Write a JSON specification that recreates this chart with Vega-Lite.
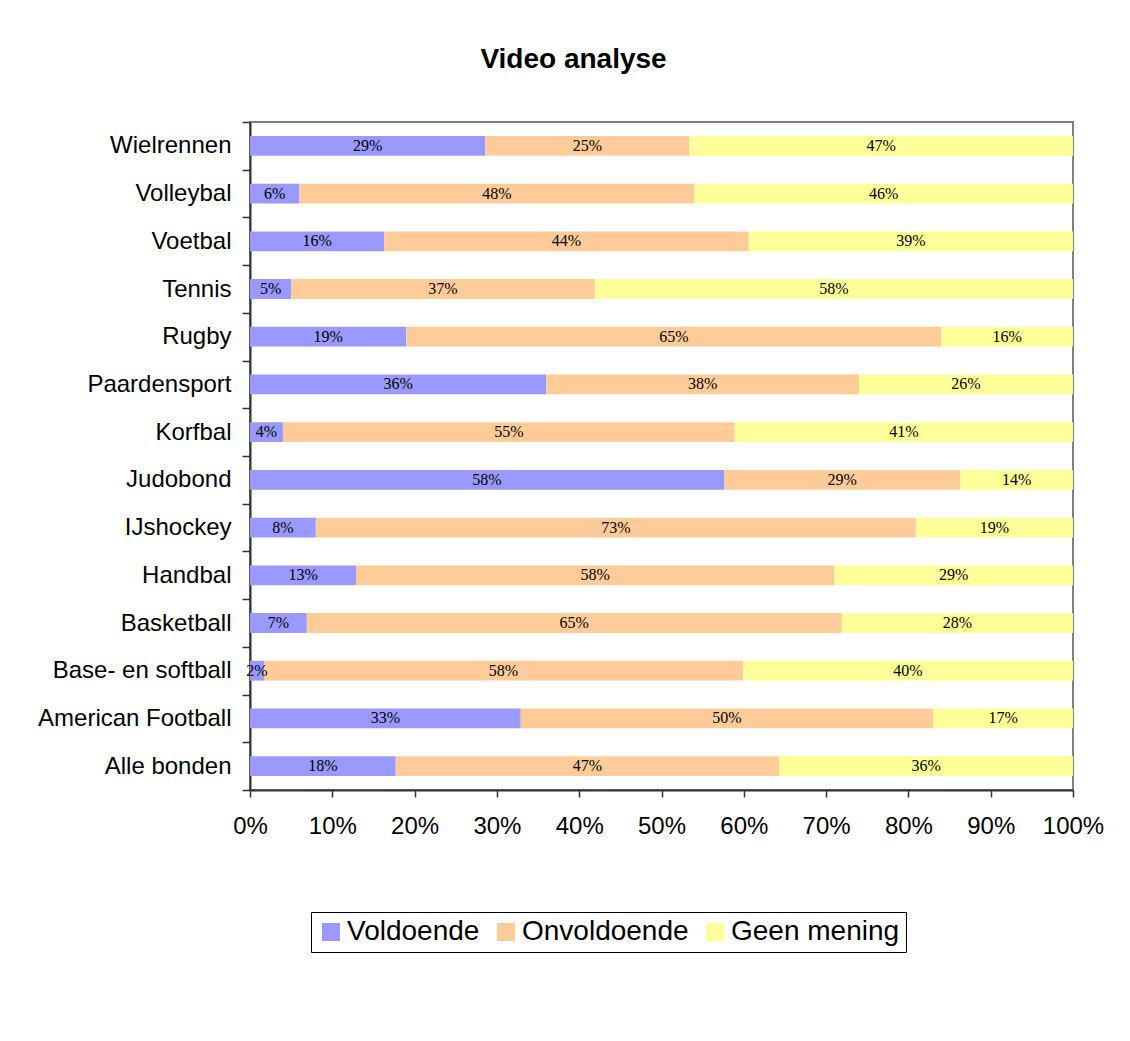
{
  "$schema": "https://vega.github.io/schema/vega-lite/v6.json",
  "width": 823,
  "height": 668,
  "autosize": "none",
  "padding": {"left": 250, "top": 122, "right": 57, "bottom": 251},
  "background": "white",
  "title": {
    "text": "Video analyse",
    "font": "Liberation Sans",
    "fontSize": 28,
    "fontWeight": "bold",
    "color": "black",
    "anchor": "middle",
    "dx": -88,
    "offset": 36
  },
  "data": {
    "values": [
      {"bond": "Wielrennen", "oordeel": "Voldoende", "volgorde": 1, "aandeel": 0.286},
      {"bond": "Wielrennen", "oordeel": "Onvoldoende", "volgorde": 2, "aandeel": 0.248},
      {"bond": "Wielrennen", "oordeel": "Geen mening", "volgorde": 3, "aandeel": 0.466},
      {"bond": "Volleybal", "oordeel": "Voldoende", "volgorde": 1, "aandeel": 0.06},
      {"bond": "Volleybal", "oordeel": "Onvoldoende", "volgorde": 2, "aandeel": 0.48},
      {"bond": "Volleybal", "oordeel": "Geen mening", "volgorde": 3, "aandeel": 0.46},
      {"bond": "Voetbal", "oordeel": "Voldoende", "volgorde": 1, "aandeel": 0.163},
      {"bond": "Voetbal", "oordeel": "Onvoldoende", "volgorde": 2, "aandeel": 0.443},
      {"bond": "Voetbal", "oordeel": "Geen mening", "volgorde": 3, "aandeel": 0.394},
      {"bond": "Tennis", "oordeel": "Voldoende", "volgorde": 1, "aandeel": 0.05},
      {"bond": "Tennis", "oordeel": "Onvoldoende", "volgorde": 2, "aandeel": 0.369},
      {"bond": "Tennis", "oordeel": "Geen mening", "volgorde": 3, "aandeel": 0.581},
      {"bond": "Rugby", "oordeel": "Voldoende", "volgorde": 1, "aandeel": 0.19},
      {"bond": "Rugby", "oordeel": "Onvoldoende", "volgorde": 2, "aandeel": 0.65},
      {"bond": "Rugby", "oordeel": "Geen mening", "volgorde": 3, "aandeel": 0.16},
      {"bond": "Paardensport", "oordeel": "Voldoende", "volgorde": 1, "aandeel": 0.36},
      {"bond": "Paardensport", "oordeel": "Onvoldoende", "volgorde": 2, "aandeel": 0.38},
      {"bond": "Paardensport", "oordeel": "Geen mening", "volgorde": 3, "aandeel": 0.26},
      {"bond": "Korfbal", "oordeel": "Voldoende", "volgorde": 1, "aandeel": 0.04},
      {"bond": "Korfbal", "oordeel": "Onvoldoende", "volgorde": 2, "aandeel": 0.549},
      {"bond": "Korfbal", "oordeel": "Geen mening", "volgorde": 3, "aandeel": 0.411},
      {"bond": "Judobond", "oordeel": "Voldoende", "volgorde": 1, "aandeel": 0.576},
      {"bond": "Judobond", "oordeel": "Onvoldoende", "volgorde": 2, "aandeel": 0.287},
      {"bond": "Judobond", "oordeel": "Geen mening", "volgorde": 3, "aandeel": 0.137},
      {"bond": "IJshockey", "oordeel": "Voldoende", "volgorde": 1, "aandeel": 0.08},
      {"bond": "IJshockey", "oordeel": "Onvoldoende", "volgorde": 2, "aandeel": 0.729},
      {"bond": "IJshockey", "oordeel": "Geen mening", "volgorde": 3, "aandeel": 0.191},
      {"bond": "Handbal", "oordeel": "Voldoende", "volgorde": 1, "aandeel": 0.129},
      {"bond": "Handbal", "oordeel": "Onvoldoende", "volgorde": 2, "aandeel": 0.581},
      {"bond": "Handbal", "oordeel": "Geen mening", "volgorde": 3, "aandeel": 0.29},
      {"bond": "Basketball", "oordeel": "Voldoende", "volgorde": 1, "aandeel": 0.069},
      {"bond": "Basketball", "oordeel": "Onvoldoende", "volgorde": 2, "aandeel": 0.65},
      {"bond": "Basketball", "oordeel": "Geen mening", "volgorde": 3, "aandeel": 0.281},
      {"bond": "Base- en softball", "oordeel": "Voldoende", "volgorde": 1, "aandeel": 0.017},
      {"bond": "Base- en softball", "oordeel": "Onvoldoende", "volgorde": 2, "aandeel": 0.582},
      {"bond": "Base- en softball", "oordeel": "Geen mening", "volgorde": 3, "aandeel": 0.401},
      {"bond": "American Football", "oordeel": "Voldoende", "volgorde": 1, "aandeel": 0.329},
      {"bond": "American Football", "oordeel": "Onvoldoende", "volgorde": 2, "aandeel": 0.501},
      {"bond": "American Football", "oordeel": "Geen mening", "volgorde": 3, "aandeel": 0.17},
      {"bond": "Alle bonden", "oordeel": "Voldoende", "volgorde": 1, "aandeel": 0.177},
      {"bond": "Alle bonden", "oordeel": "Onvoldoende", "volgorde": 2, "aandeel": 0.466},
      {"bond": "Alle bonden", "oordeel": "Geen mening", "volgorde": 3, "aandeel": 0.357}
    ]
  },
  "encoding": {
    "y": {
      "field": "bond",
      "type": "nominal",
      "sort": ["Wielrennen", "Volleybal", "Voetbal", "Tennis", "Rugby", "Paardensport", "Korfbal", "Judobond", "IJshockey", "Handbal", "Basketball", "Base- en softball", "American Football", "Alle bonden"],
      "scale": {"paddingInner": 0, "paddingOuter": 0},
      "axis": {
        "title": null,
        "labelFont": "Liberation Sans",
        "labelFontSize": 24,
        "labelColor": "black",
        "labelLimit": 300,
        "labelPadding": 11,
        "tickSize": 8,
        "tickBand": "extent",
        "tickColor": "#333333",
        "tickWidth": 1.5,
        "domainColor": "#333333",
        "domainWidth": 2,
        "grid": false
      }
    }
  },
  "layer": [
    {
      "mark": {"type": "bar", "height": {"band": 0.415}},
      "encoding": {
        "x": {
          "field": "aandeel",
          "type": "quantitative",
          "stack": "zero",
          "scale": {"domain": [0, 1], "nice": false},
          "axis": {
            "title": null,
            "values": [0, 0.1, 0.2, 0.3, 0.4, 0.5, 0.6, 0.7, 0.8, 0.9, 1],
            "format": ".0%",
            "labelFont": "Liberation Sans",
            "labelFontSize": 24,
            "labelColor": "black",
            "labelPadding": 17,
            "labelFlush": false,
            "labelOverlap": false,
            "tickSize": 7,
            "tickColor": "#333333",
            "tickWidth": 1.5,
            "domainColor": "#333333",
            "domainWidth": 2,
            "grid": false
          }
        },
        "color": {
          "field": "oordeel",
          "type": "nominal",
          "scale": {"domain": ["Voldoende", "Onvoldoende", "Geen mening"], "range": ["#9999FF", "#FFCC99", "#FFFF99"]},
          "legend": {
            "title": null,
            "orient": "none",
            "legendX": 61,
            "legendY": 790,
            "direction": "horizontal",
            "symbolType": "square",
            "symbolSize": 324,
            "symbolStrokeWidth": 0,
            "labelFont": "Liberation Sans",
            "labelFontSize": 28,
            "labelColor": "black",
            "labelLimit": 400,
            "labelOffset": 2,
            "columnPadding": 12,
            "padding": 6,
            "strokeColor": "black",
            "fillColor": "white"
          }
        },
        "order": {"field": "volgorde", "type": "quantitative"}
      }
    },
    {
      "mark": {"type": "text", "font": "Liberation Serif", "fontSize": 16, "color": "black", "align": "center", "baseline": "middle"},
      "encoding": {
        "x": {"field": "aandeel", "type": "quantitative", "stack": "zero", "bandPosition": 0.5},
        "detail": {"field": "oordeel", "type": "nominal"},
        "order": {"field": "volgorde", "type": "quantitative"},
        "text": {"field": "aandeel", "type": "quantitative", "format": ".0%"}
      }
    }
  ],
  "config": {
    "view": {"stroke": "#808080", "strokeWidth": 2}
  }
}
